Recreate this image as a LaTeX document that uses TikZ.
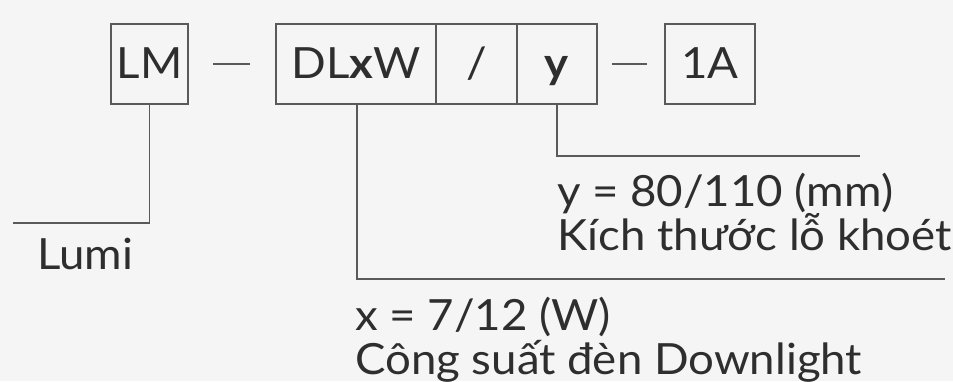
\documentclass[tikz,border=0pt]{standalone}
\usepackage{fontspec}
\setmainfont[FakeStretch=1.06]{Lato}
\definecolor{bg}{HTML}{F5F5F5}
\definecolor{ln}{HTML}{5A5A5A}
\definecolor{tx}{HTML}{2E2E2E}
\begin{document}
\begin{tikzpicture}[x=1pt,y=-1pt,
  box/.style={draw=ln,line width=1.5pt,minimum height=80pt,inner sep=0pt,text height=29pt,text depth=0pt,text=tx,font=\fontsize{43}{50}\selectfont},
  lbl/.style={anchor=base west,inner sep=0pt,text=tx,font=\fontsize{43}{50}\selectfont},
  wire/.style={draw=ln,line width=1.5pt}]
\fill[bg] (0,0) rectangle (953,381);
\useasboundingbox (0,0) rectangle (953,381);
% boxes
\node[box,minimum width=77pt] (lm) at (149.5,64) {LM};
\node[box,minimum width=160pt] (dl) at (356,64) {DL\textbf{x}W};
\node[box,minimum width=81pt] (sl) at (476.5,64) {/};
\node[box,minimum width=80pt] (yy) at (557,64) {\textbf{y}};
\node[box,minimum width=90pt] (oa) at (710,64) {1A};
% dashes
\coordinate (d1a) at (213,64); \coordinate (d1b) at (250,64);
\coordinate (d2a) at (612,64); \coordinate (d2b) at (647,64);
\draw[wire] (d1a) -- (d1b);
\draw[wire] (d2a) -- (d2b);
% leader ends
\coordinate (e1) at (13,223);
\coordinate (e2) at (860,156);
\coordinate (e3) at (945,279);
\draw[wire] (lm.south) |- (e1);
\draw[wire] (yy.south) |- (e2);
\draw[wire] (357,104) coordinate (dlb) |- (e3);
% labels
\node[lbl] (lumi) at (37,269) {Lumi};
\node[lbl] (y1) at (557,206) {y = 80/110 (mm)};
\node[lbl] (y2) at (557,250) {Kích thước lỗ khoét};
\node[lbl] (x1) at (355,330) {x = 7/12 (W)};
\node[lbl] (x2) at (355,374) {Công suất đèn Downlight};
\end{tikzpicture}
\end{document}
